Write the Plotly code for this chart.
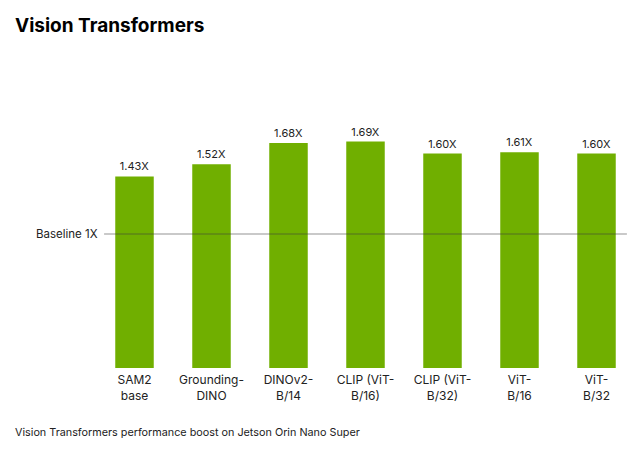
import plotly.graph_objects as go

# chart data
models = ["SAM2<br>base", "Grounding-<br>DINO", "DINOv2-<br>B/14", "CLIP (ViT-<br>B/16)",
          "CLIP (ViT-<br>B/32)", "ViT-<br>B/16", "ViT-<br>B/32"]
speedup = [1.43, 1.52, 1.68, 1.69, 1.60, 1.61, 1.60]
labels = ["%.2fX" % v for v in speedup]
baseline = 1.0

green = "#70af00"
font = "Inter, Roboto, sans-serif"

fig = go.Figure(go.Bar(
    x=models, y=speedup, text=labels, textposition="outside",
    textfont=dict(size=11, color="#222", family=font),
    marker=dict(color=green, line=dict(width=0)),
    width=0.5, cliponaxis=False,
))

# baseline line across the plot
fig.add_shape(type="line", xref="paper", yref="y", x0=0.015, x1=0.985,
              y0=baseline, y1=baseline, line=dict(color="rgba(60,60,60,0.55)", width=1),
              layer="above")
fig.add_annotation(xref="paper", yref="y", x=0.0, y=baseline, text="Baseline 1X",
                   showarrow=False, xanchor="right", xshift=4,
                   font=dict(size=11.5, color="#222", family=font))

fig.add_annotation(xref="paper", yref="paper", x=0, y=1.0, xshift=-83, yshift=75,
                   text="<b>Vision Transformers</b>", showarrow=False,
                   xanchor="left", yanchor="middle",
                   font=dict(size=19, color="#000", family=font))
fig.add_annotation(xref="paper", yref="paper", x=0, y=0, xshift=-83, yshift=-64,
                   text="Vision Transformers performance boost on Jetson Orin Nano Super",
                   showarrow=False, xanchor="left", yanchor="middle",
                   font=dict(size=10.8, color="#222", family=font))

fig.update_layout(
    width=642, height=460,
    margin=dict(l=88, r=15, t=92, b=100),
    paper_bgcolor="white", plot_bgcolor="white",
    showlegend=False, bargap=0.5,
    font=dict(family=font, size=11, color="#222"),
)
fig.update_xaxes(showline=False, showgrid=False, ticks="", ticklabelstandoff=3,
                 tickfont=dict(size=12, color="#222"))
fig.update_yaxes(range=[0, 2], visible=False, showgrid=False, zeroline=False)

fig.write_html("out.html")
